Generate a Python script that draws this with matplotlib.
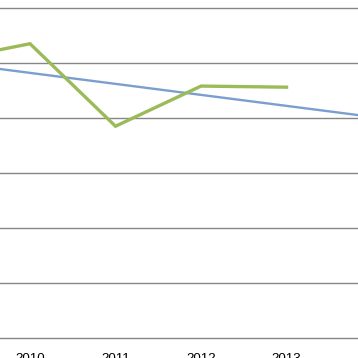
import matplotlib
matplotlib.use('Agg')
import matplotlib.pyplot as plt

# categories (2009 and 2014 only partly visible at the edges)
years = ['2009', '2010', '2011', '2012', '2013', '2014']
actual = [50.4, 53.5, 38.5, 45.8, 45.6]      # green series, ends at 2013
trend = [50.2, 48.2, 46.2, 44.2, 42.2, 40.2]  # blue line
grid_vals = [0, 10, 20, 30, 40, 50, 60]

fig = plt.figure(figsize=(3.58, 3.58), dpi=100)
ax = fig.add_axes([0, 0, 1, 1])

for g in grid_vals:
    ax.axhline(g, color='#868686', lw=1.0, zorder=1)

x = list(range(len(years)))
ax.plot(x, trend, color='#7A9FCF', lw=1.7, zorder=2)
ax.plot(x[:len(actual)], actual, color='#9BBB59', lw=2.4, zorder=3,
        solid_joinstyle='miter')

for i, lab in enumerate(years):
    ax.text(i, -2.7, lab, ha='center', va='top', fontsize=9.6,
            family='Liberation Sans', color='#000000', zorder=4)

ax.set_xlim(0.649, 4.836)
ax.set_ylim(-3.64, 61.45)
ax.axis('off')

fig.savefig('out.png', dpi=100)
